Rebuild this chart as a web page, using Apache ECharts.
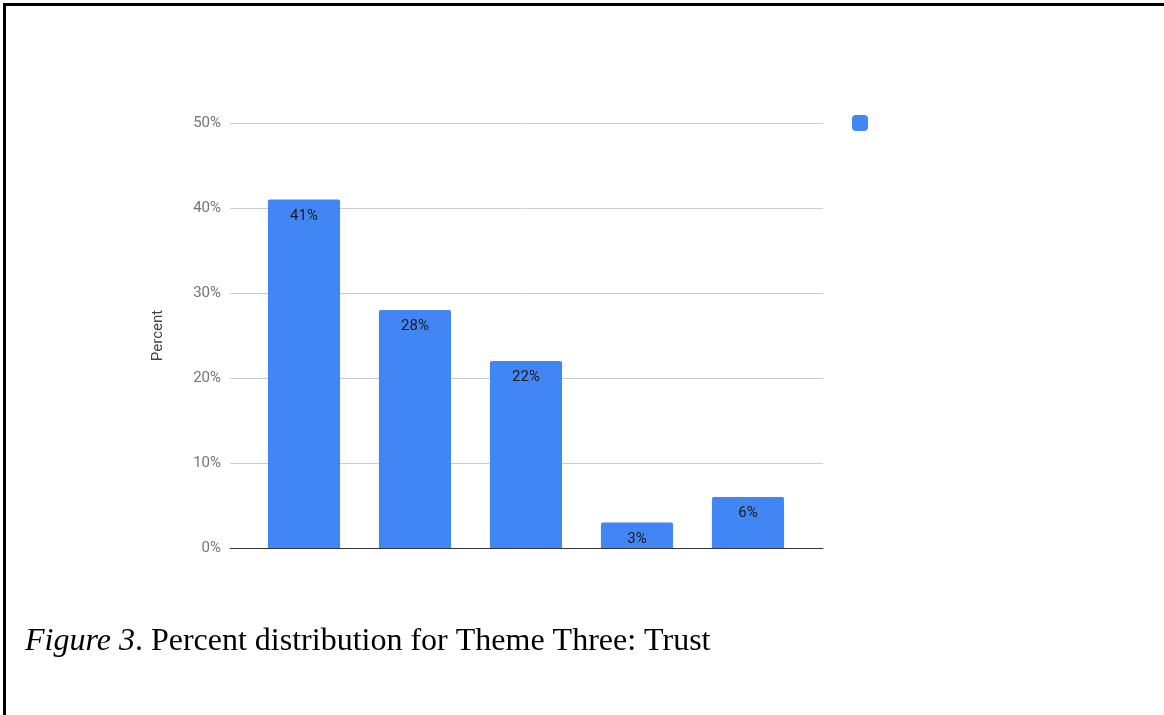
<!DOCTYPE html>
<html>
<head>
<meta charset="utf-8">
<script src="https://cdn.jsdelivr.net/npm/echarts@6/dist/echarts.min.js"></script>
<style>
  html, body { margin: 0; padding: 0; background: #fff; }
  #chart { width: 1164px; height: 715px; }
</style>
</head>
<body>
<div id="chart"></div>
<script>
const categories = ['A', 'B', 'C', 'D', 'E'];
const percentValues = [41, 28, 22, 3, 6];
const yTicks = [0, 10, 20, 30, 40, 50];
const captionItalic = 'Figure 3';
const captionRest = '. Percent distribution for Theme Three: Trust';
const yAxisTitle = 'Percent';

const chart = echarts.init(document.getElementById('chart'), null, { renderer: 'canvas' });
const BLUE = '#4285F4';

chart.setOption({
  animation: false,
  backgroundColor: '#ffffff',
  legend: {
    show: true,
    left: 847,
    top: 110,
    itemWidth: 16,
    itemHeight: 16,
    icon: 'roundRect',
    formatter: function () { return ''; },
    data: [{ name: 'Percent', itemStyle: { color: BLUE } }]
  },
  grid: [
    { left: 230, top: 123, width: 593, height: 425 },
    { left: 248.5, top: 123, width: 555, height: 425 }
  ],
  xAxis: [
    {
      gridIndex: 0, type: 'category', data: categories,
      axisLine: { show: true, lineStyle: { color: '#333333', width: 1 } },
      axisTick: { show: false }, axisLabel: { show: false }, splitLine: { show: false }
    },
    {
      gridIndex: 1, type: 'category', data: categories,
      axisLine: { show: false }, axisTick: { show: false }, axisLabel: { show: false }
    }
  ],
  yAxis: [
    {
      gridIndex: 0, type: 'value', min: 0, max: 50, interval: 10,
      name: yAxisTitle, nameLocation: 'middle', nameGap: 64, nameRotate: 90,
      nameTextStyle: { fontFamily: 'Roboto', fontSize: 15, color: '#444444' },
      axisLine: { show: false }, axisTick: { show: false },
      axisLabel: { fontFamily: 'Roboto', fontSize: 15, color: '#757575', margin: 9,
                   formatter: function (v) { return v + '%'; } },
      splitLine: { show: true, lineStyle: { color: '#cccccc', width: 1 } }
    },
    {
      gridIndex: 1, type: 'value', min: 0, max: 50, interval: 10,
      axisLine: { show: false }, axisTick: { show: false }, axisLabel: { show: false },
      splitLine: { show: false }
    }
  ],
  series: [
    {
      name: 'Percent',
      type: 'bar',
      xAxisIndex: 1, yAxisIndex: 1,
      data: percentValues,
      barWidth: '65%',
      itemStyle: { color: BLUE, borderRadius: [2, 2, 0, 0] },
      label: {
        show: true, position: 'insideTop', distance: 9,
        fontFamily: 'Roboto', fontSize: 15, color: '#1a1a1a',
        formatter: function (p) { return p.value + '%'; }
      },
      z: 3
    }
  ],
  graphic: [
    { type: 'rect', left: 3, top: 3, shape: { width: 1161, height: 3 }, style: { fill: '#000' } },
    { type: 'rect', left: 3, top: 3, shape: { width: 3, height: 712 }, style: { fill: '#000' } },
    {
      type: 'text', left: 25, top: 626,
      style: {
        text: '{i|' + captionItalic + '}{n|' + captionRest + '}',
        rich: {
          i: { fontFamily: 'Liberation Serif', fontStyle: 'italic', fontSize: 32, fill: '#000' },
          n: { fontFamily: 'Liberation Serif', fontSize: 32, fill: '#000' }
        }
      }
    }
  ]
});
</script>
</body>
</html>
